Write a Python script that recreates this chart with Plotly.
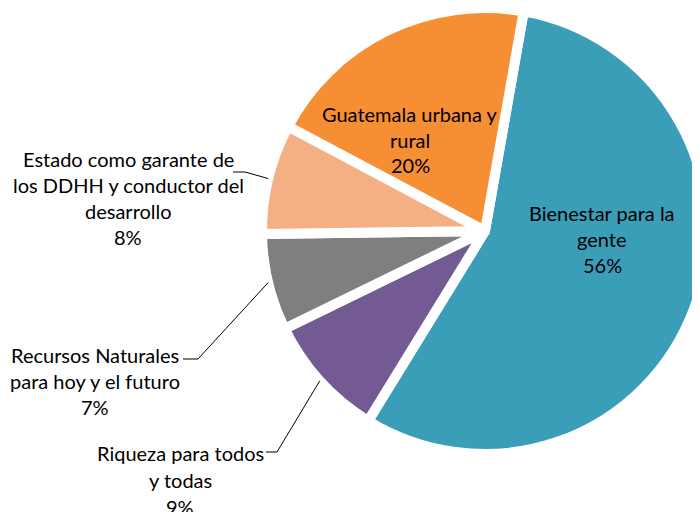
import math
import plotly.graph_objects as go

# ---- data ----
categories = [
    "Bienestar para la gente",
    "Riqueza para todos y todas",
    "Recursos Naturales para hoy y el futuro",
    "Estado como garante de los DDHH y conductor del desarrollo",
    "Guatemala urbana y rural",
]
label_lines = [
    ["Bienestar para la", "gente"],
    ["Riqueza para todos", "y todas"],
    ["Recursos Naturales", "para hoy y el futuro"],
    ["Estado como garante de", "los DDHH y conductor del", "desarrollo"],
    ["Guatemala urbana y", "rural"],
]
values = [56, 9, 7, 8, 20]
colors = ["#3A9EB9", "#745A92", "#7F7F7F", "#F4B084", "#F68E33"]

# ---- layout geometry (figure pixels) ----
W, H = 700, 512
OFF = 8            # page offset of the figure inside the window
R = 223.0          # pie radius
CX, CY = 477.0, 223.0
ROT = 10
BORDER = 10

dom_x = [(CX - R) / W, (CX + R) / W]
dom_y = [1 - (CY + R) / H, 1 - (CY - R) / H]

fig = go.Figure(go.Pie(
    labels=categories,
    values=values,
    sort=False,
    direction="clockwise",
    rotation=ROT,
    marker=dict(colors=colors, line=dict(width=BORDER, color="#FFFFFF")),
    textinfo="none",
    hoverinfo="label+percent",
    showlegend=False,
    domain=dict(x=dom_x, y=dom_y),
))

def px(x):
    return (x - OFF) / W

def py(y):
    return 1 - (y - OFF) / H

total = sum(values)
mids = []
acc = ROT
for v in values:
    ang = v / total * 360
    mids.append(acc + ang / 2)
    acc += ang

def arc_point(i, rr=R):
    a = math.radians(mids[i])
    return CX + OFF + rr * math.sin(a), CY + OFF - rr * math.cos(a)

# label placement (window pixels): center x, first line center y, line step
label_pos = {
    0: (602, 213, 26),
    1: (180, 453, 27),
    2: (95, 355, 26),
    3: (128, 158.5, 26),
    4: (410, 114, 25.5),
}
# leader line label-side points (window pixels) for outside labels
leaders = {
    1: [(266, 452), (277, 452)],
    2: [(183, 359), (198, 359)],
    3: [(233, 172), (245, 172)],
}

FONT = "Lato, 'Open Sans', sans-serif"
FS = 20

annotations = []
for i, (x, y0, ls) in label_pos.items():
    pct = f"{round(values[i] / total * 100)}%"
    lines = label_lines[i] + [pct]
    for k, t in enumerate(lines):
        annotations.append(dict(
            x=px(x), y=py(y0 + k * ls), xref="paper", yref="paper",
            text=t, showarrow=False, xanchor="center", yanchor="middle",
            font=dict(family=FONT, size=FS, color="#000000"),
        ))

shapes = []
for i, pts in leaders.items():
    ex, ey = arc_point(i)
    allp = pts + [(ex, ey)]
    path = "M " + " L ".join(f"{px(a):.5f},{py(b):.5f}" for a, b in allp)
    shapes.append(dict(type="path", xref="paper", yref="paper", path=path,
                       line=dict(color="#000000", width=1)))

fig.update_layout(
    width=W, height=H,
    margin=dict(l=0, r=0, t=0, b=0),
    paper_bgcolor="#FFFFFF",
    plot_bgcolor="#FFFFFF",
    annotations=annotations,
    shapes=shapes,
    showlegend=False,
)

fig.write_html(
    "out.html",
    post_script="document.documentElement.style.overflow='hidden';"
                "document.body.style.overflow='hidden';",
)
